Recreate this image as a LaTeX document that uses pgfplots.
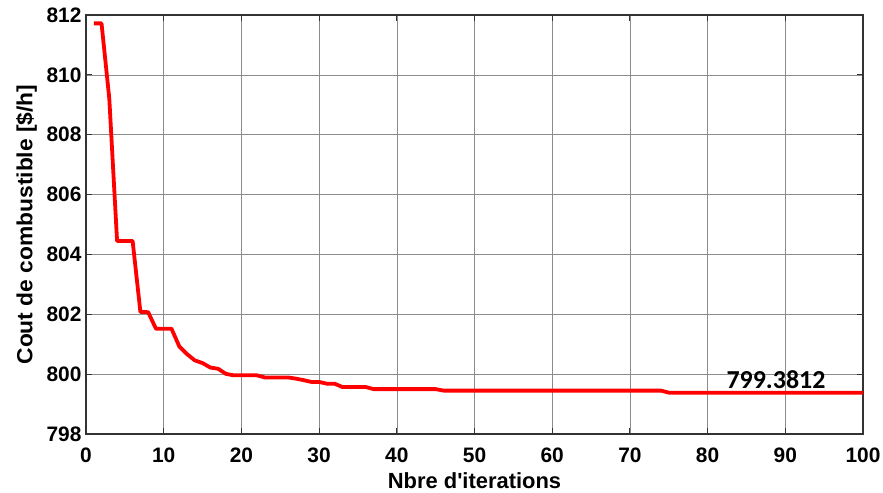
\documentclass[border=0pt]{standalone}
\usepackage{fontspec}
\setmainfont{Liberation Sans}
\newfontfamily\carlito{Carlito}
\usepackage{pgfplots}
\pgfplotsset{compat=1.18}
\begin{document}
\begin{tikzpicture}
\begin{axis}[
  at={(0,0)}, anchor=south west,
  scale only axis,
  width=777bp, height=419bp,
  xmin=0, xmax=100, ymin=798, ymax=812,
  xtick={0,10,...,100},
  ytick={798,800,...,812},
  /pgf/number format/assume math mode=true,
  /pgf/number format/1000 sep={},
  tick label style={font=\bfseries\fontsize{21}{24}\selectfont},
  label style={font=\bfseries\fontsize{22}{25}\selectfont},
  xlabel={Nbre d\textquotesingle iterations},
  ylabel={Cout de combustible [\$/h]},
  xlabel style={at={(axis description cs:0.5,-0.129)}, anchor=base},
  ylabel style={at={(axis description cs:-0.0689,0.5)}, anchor=base, xscale=1.04},
  grid=major,
  major grid style={draw=black!45, line width=0.6bp},
  axis line style={draw=black!80, line width=1.2bp},
  major tick length=6bp,
  tick style={draw=black!80, line width=1bp},
  tick align=inside,
  xticklabel style={yshift=-10bp},
  yticklabel style={xshift=-1bp},
]
\addplot[red, line width=3.8bp, line join=round] coordinates {
(1,811.72) (2,811.72) (3,809.2) (4,804.45) (6,804.45) (7,802.08) (8,802.07)
(9,801.52) (11,801.52) (12,800.93) (13,800.67) (14,800.46) (15,800.37)
(16,800.22) (17,800.18) (18,800.01) (19,799.96) (22,799.96) (23,799.89)
(26,799.89) (27,799.85) (28,799.80) (29,799.74) (30,799.74) (31,799.68)
(32,799.68) (33,799.57) (36,799.57) (37,799.50) (45,799.50) (46,799.45)
(74,799.45) (75,799.3812) (100,799.3812)
};
\node[font=\carlito\bfseries\fontsize{26}{28}\selectfont] at (axis cs:88.8,799.83) {799.3812};
\end{axis}
\pgfresetboundingbox
\path (-86bp,-59bp) rectangle (797bp,434bp);
\end{tikzpicture}
\end{document}
